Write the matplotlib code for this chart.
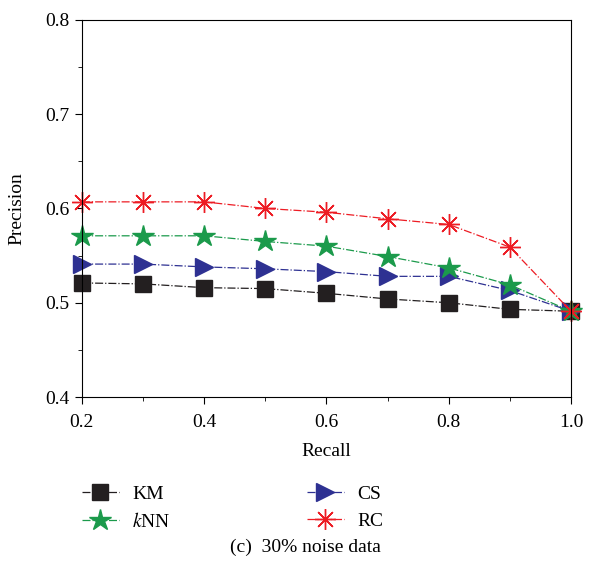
import matplotlib.pyplot as plt
from matplotlib.ticker import MultipleLocator

recall = [0.2, 0.3, 0.4, 0.5, 0.6, 0.7, 0.8, 0.9, 1.0]
km = [0.521, 0.520, 0.516, 0.515, 0.510, 0.504, 0.500, 0.493, 0.491]
knn = [0.571, 0.571, 0.571, 0.565, 0.560, 0.549, 0.537, 0.519, 0.491]
cs = [0.541, 0.541, 0.538, 0.536, 0.533, 0.528, 0.528, 0.513, 0.491]
rc = [0.607, 0.607, 0.607, 0.600, 0.596, 0.589, 0.583, 0.559, 0.491]


def main():
    plt.rcParams["font.family"] = ["Liberation Serif", "DejaVu Serif"]
    plt.rcParams["mathtext.fontset"] = "stix"

    fig = plt.figure(figsize=(6.02, 5.68), dpi=100)
    ax = fig.add_axes([0.136, 0.301, 0.8125, 0.664])

    h_km, = ax.plot(recall, km, ls="-.", lw=0.9, color="#231f20",
                    marker="s", ms=11, mfc="#231f20", mec="#231f20", clip_on=False)
    h_cs, = ax.plot(recall, cs, ls="-.", lw=0.9, color="#2e3192",
                    marker=">", ms=13, mfc="#2e3192", mec="#2e3192", clip_on=False)
    h_knn, = ax.plot(recall, knn, ls="-.", lw=0.9, color="#1b9a4b",
                     marker="*", ms=16, mfc="#1b9a4b", mec="#1b9a4b", clip_on=False)
    h_rc, = ax.plot(recall, rc, ls="-.", lw=0.9, color="#ed1c24",
                    marker=(8, 2, 0), ms=15, mew=1.0, mec="#ed1c24", clip_on=False)

    ax.set_xlim(0.2, 1.0)
    ax.set_ylim(0.4, 0.8)
    ax.xaxis.set_major_locator(MultipleLocator(0.2))
    ax.xaxis.set_minor_locator(MultipleLocator(0.1))
    ax.yaxis.set_major_locator(MultipleLocator(0.1))
    ax.yaxis.set_minor_locator(MultipleLocator(0.05))
    ax.tick_params(which="major", direction="out", length=5, labelsize=14)
    ax.tick_params(which="minor", direction="out", length=3)
    ax.tick_params(axis="x", pad=7)
    ax.tick_params(axis="y", pad=4)
    ax.set_xticklabels([f"{v:.1f}" for v in ax.get_xticks()])
    ax.set_yticklabels([f"{v:.1f}" for v in ax.get_yticks()])
    ax.set_xlabel("Recall", fontsize=14, labelpad=9)
    ax.set_ylabel("Precision", fontsize=14, labelpad=14)

    fig.legend([h_km, h_knn, h_cs, h_rc], ["KM", "$k$NN", "CS", "RC"],
               ncol=2, loc="upper left", bbox_to_anchor=(0.107, 0.176),
               frameon=False, fontsize=14, handlelength=1.9, columnspacing=7.0,
               labelspacing=0.45, handletextpad=0.7)
    fig.text(0.507, 0.029, "(c)  30% noise data", ha="center", fontsize=14)

    fig.savefig("out.png", dpi=100)


if __name__ == "__main__":
    main()
